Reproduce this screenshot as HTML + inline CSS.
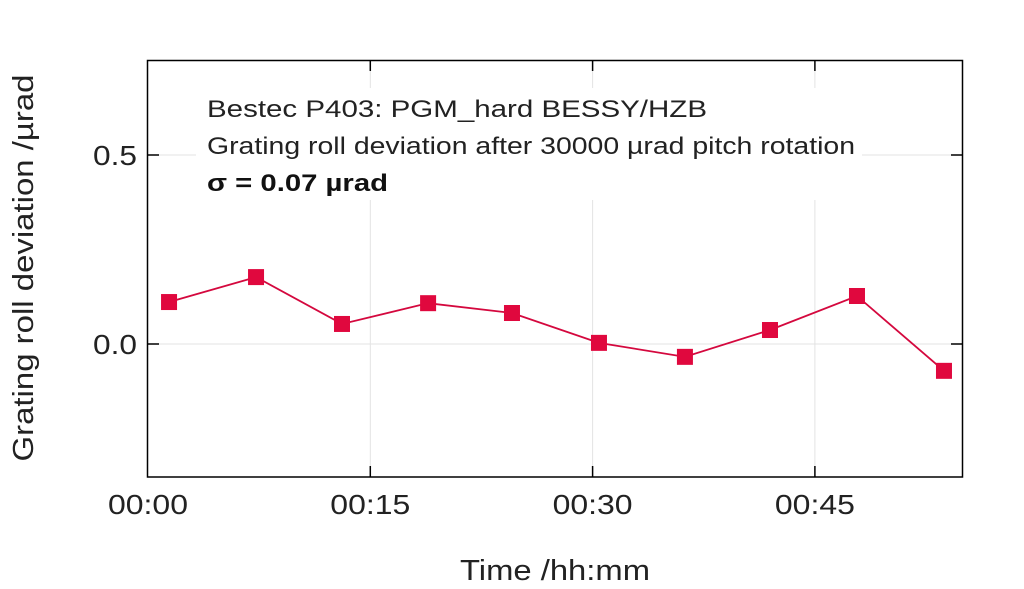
<!DOCTYPE html>
<html><head><meta charset="utf-8"><style>
html,body{margin:0;padding:0;background:#fff;}
svg{display:block;font-family:"Liberation Sans",sans-serif;}
</style></head><body>
<svg id="chart" width="1024" height="589">
<g id="grid"></g>
<rect x="196" y="88" width="666" height="112" fill="#fff"/>
<g id="series"></g>
<rect x="147.5" y="60.5" width="815" height="416.5" fill="none" stroke="#000" stroke-width="1.5"/>
<g id="axes"></g>
<text x="207" y="117" font-size="24" fill="#222" textLength="500" lengthAdjust="spacingAndGlyphs">Bestec P403: PGM_hard BESSY/HZB</text>
<text x="207" y="154" font-size="24" fill="#222" textLength="648" lengthAdjust="spacingAndGlyphs">Grating roll deviation after 30000 µrad pitch rotation</text>
<text x="207" y="191" font-size="24" font-weight="bold" fill="#111" textLength="181" lengthAdjust="spacingAndGlyphs">σ = 0.07 µrad</text>
<text x="555" y="580" font-size="29" text-anchor="middle" fill="#222" textLength="190" lengthAdjust="spacingAndGlyphs">Time /hh:mm</text>
<text transform="translate(33,268) rotate(-90)" font-size="29" text-anchor="middle" fill="#222" textLength="387" lengthAdjust="spacingAndGlyphs">Grating roll deviation /µrad</text>
</svg>
<script>
const minutes = [1.42, 7.29, 13.09, 18.9, 24.56, 30.43, 36.23, 41.97, 47.84, 53.71];
const values = [0.111, 0.177, 0.053, 0.108, 0.082, 0.003, -0.034, 0.037, 0.127, -0.071];
const xTicks = [0, 15, 30, 45];
const xTickLabels = ["00:00", "00:15", "00:30", "00:45"];
const yTicks = [0.0, 0.5];
const yTickLabels = ["0.0", "0.5"];

const NS = "http://www.w3.org/2000/svg";
const x = m => 148 + m * 14.82;
const y = v => 344 - v * 378;
function mk(tag, attrs, parent, text){
  const e = document.createElementNS(NS, tag);
  for (const k in attrs) e.setAttribute(k, attrs[k]);
  if (text !== undefined) e.textContent = text;
  parent.appendChild(e); return e;
}
const grid = document.getElementById('grid');
const axes = document.getElementById('axes');
const series = document.getElementById('series');
xTicks.forEach((t, i) => {
  if (t > 0) {
    const g = mk('line', {x1:x(t), x2:x(t), y1:61, y2:477, stroke:'#e3e3e3', 'stroke-width':1}, grid);
    
    
    const a = mk('line', {x1:x(t), x2:x(t), y1:466, y2:477, stroke:'#000', 'stroke-width':1.5}, axes);
    
    
    const b = mk('line', {x1:x(t), x2:x(t), y1:61, y2:71, stroke:'#000', 'stroke-width':1.5}, axes);
    
    
  }
  const l = mk('text', {x:x(t), y:514, 'font-size':28, 'text-anchor':'middle', fill:'#222', textLength:80, lengthAdjust:'spacingAndGlyphs'}, axes, xTickLabels[i]);
  
  
});
yTicks.forEach((t, i) => {
  const g = mk('line', {x1:148, x2:962, y1:y(t), y2:y(t), stroke:'#e3e3e3', 'stroke-width':1}, grid);
  
  
  const a = mk('line', {x1:148, x2:159, y1:y(t), y2:y(t), stroke:'#000', 'stroke-width':1.5}, axes);
  
  
  const b = mk('line', {x1:951, x2:962, y1:y(t), y2:y(t), stroke:'#000', 'stroke-width':1.5}, axes);
  
  
  const l = mk('text', {x:137, y:y(t)+10, 'font-size':28, 'text-anchor':'end', fill:'#222', textLength:44, lengthAdjust:'spacingAndGlyphs'}, axes, yTickLabels[i]);
  
  
});
const pts = minutes.map((m, i) => x(m) + ',' + y(values[i])).join(' ');
const line = mk('polyline', {points:pts, fill:'none', stroke:'#d4083e', 'stroke-width':1.8}, series);


minutes.forEach((m, i) => {
  const r = mk('rect', {x:x(m)-8, y:y(values[i])-8, width:16, height:16, fill:'#e0083e'}, series);
  
  
});
</script>
</body></html>
